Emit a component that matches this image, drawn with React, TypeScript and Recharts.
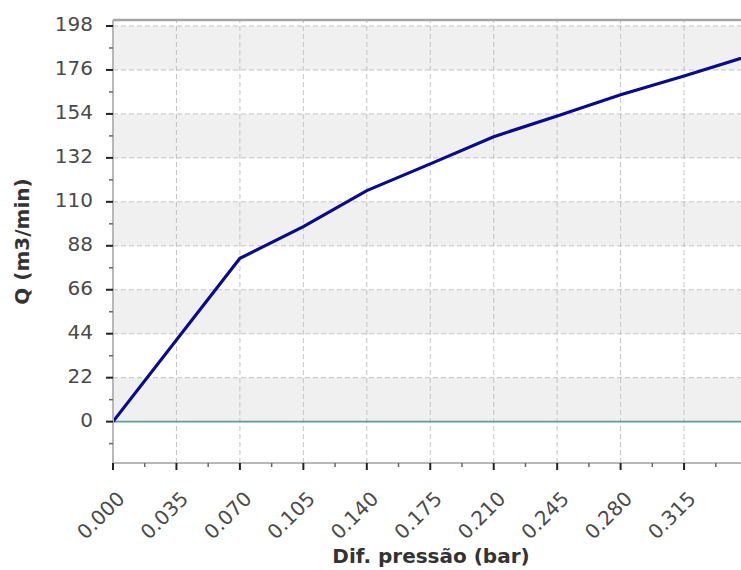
import {
  LineChart,
  Line,
  XAxis,
  YAxis,
  ReferenceLine,
  ReferenceArea,
} from 'recharts'

const pressure = [0, 0.07, 0.105, 0.14, 0.175, 0.21, 0.245, 0.28, 0.315, 0.3464]
const flow = [0, 81.7, 97.6, 115.6, 129.0, 142.6, 153.0, 163.6, 173.0, 181.8]

const majorX = [0, 0.035, 0.07, 0.105, 0.14, 0.175, 0.21, 0.245, 0.28, 0.315]
const minorX = [0.0175, 0.0525, 0.0875, 0.1225, 0.1575, 0.1925, 0.2275, 0.2625, 0.2975, 0.3325]
const majorY = [0, 22, 44, 66, 88, 110, 132, 154, 176, 198]
const minorY = [-11, 11, 33, 55, 77, 99, 121, 143, 165, 187]
// shaded bands, every other step
const bands: [number, number][] = [
  [0, 22],
  [44, 66],
  [88, 110],
  [132, 154],
  [176, 198],
]

const X_DOMAIN: [number, number] = [0, 0.3464]
const Y_DOMAIN: [number, number] = [-20.7, 201]

const chartData = pressure.map((p, i) => ({ x: p, q: flow[i] }))

const FONT = '"DejaVu Sans", Verdana, sans-serif'
const GRID = '#c4c4c4'

function XTick({ x, y, payload }: any) {
  const major = majorX.includes(payload.value)
  return (
    <g transform={`translate(${x},${y})`}>
      <line
        x1={0}
        y1={0}
        x2={0}
        y2={major ? 7 : 4}
        stroke={major ? '#222' : '#666'}
        strokeWidth={major ? 2 : 1.5}
      />
      {major && (
        <text
          transform="translate(13,37) rotate(-45)"
          textAnchor="end"
          fill="#4a4a4a"
          fontSize={20}
          fontFamily={FONT}
        >
          {payload.value.toFixed(3)}
        </text>
      )}
    </g>
  )
}

function YTick({ x, y, payload }: any) {
  const major = majorY.includes(payload.value)
  return (
    <g transform={`translate(${x},${y})`}>
      <line
        x1={0}
        y1={0}
        x2={major ? -7 : -4}
        y2={0}
        stroke={major ? '#222' : '#666'}
        strokeWidth={major ? 2 : 1.5}
      />
      {major && (
        <text x={-20} y={5} textAnchor="end" fill="#4a4a4a" fontSize={20} fontFamily={FONT}>
          {payload.value}
        </text>
      )}
    </g>
  )
}

export default function App() {
  // fixed so the page never gets a scrollbar
  return (
    <div style={{ position: 'fixed', left: 0, top: 0, width: 741, height: 570, background: '#fff' }}>
      <LineChart
        width={741}
        height={570}
        data={chartData}
        margin={{ top: 20, right: 0, bottom: 0, left: 0 }}
        style={{ fontFamily: FONT }}
      >
        {bands.map(([a, b]) => (
          <ReferenceArea key={a} y1={a} y2={b} fill="#f0f0f0" fillOpacity={1} stroke="none" />
        ))}
        {majorY
          .filter((v) => v !== 0)
          .map((v) => (
            <ReferenceLine key={'h' + v} y={v} stroke={GRID} strokeDasharray="5 3" />
          ))}
        {majorX
          .filter((v) => v !== 0)
          .map((v) => (
            <ReferenceLine key={'v' + v} x={v} stroke={GRID} strokeDasharray="5 3" />
          ))}
        <ReferenceLine y={Y_DOMAIN[1]} stroke="#a6a6a6" strokeWidth={2.5} />
        <ReferenceLine y={0} stroke="#5a9e98" strokeWidth={1.8} />
        <XAxis
          dataKey="x"
          type="number"
          domain={X_DOMAIN}
          ticks={[...majorX, ...minorX].sort((a, b) => a - b)}
          interval={0}
          height={107}
          tickSize={0}
          tickMargin={0}
          tickLine={false}
          tick={<XTick />}
          axisLine={{ stroke: '#b8b8b8', strokeWidth: 2 }}
          label={{
            content: ({ viewBox }: any) => (
              <text
                x={viewBox.x + viewBox.width / 2 + 4}
                y={viewBox.y + viewBox.height - 7}
                textAnchor="middle"
                fontSize={20}
                fontWeight="bold"
                fill="#333"
                fontFamily={FONT}
              >
                Dif. pressão (bar)
              </text>
            ),
          }}
        />
        <YAxis
          type="number"
          domain={Y_DOMAIN}
          ticks={[...majorY, ...minorY].sort((a, b) => a - b)}
          interval={0}
          width={113}
          tickSize={0}
          tickMargin={0}
          tickLine={false}
          tick={<YTick />}
          axisLine={{ stroke: '#b8b8b8', strokeWidth: 2 }}
          label={{
            content: ({ viewBox }: any) => {
              const cx = viewBox.x + 22
              const cy = viewBox.y + viewBox.height / 2
              return (
                <text
                  x={cx}
                  y={cy}
                  transform={`rotate(-90, ${cx}, ${cy})`}
                  textAnchor="middle"
                  dominantBaseline="central"
                  fontSize={20}
                  fontWeight="bold"
                  fill="#333"
                  fontFamily={FONT}
                >
                  Q (m3/min)
                </text>
              )
            },
          }}
        />
        <Line
          type="linear"
          dataKey="q"
          stroke="#0a0a8c"
          strokeWidth={3.2}
          dot={false}
          isAnimationActive={false}
        />
      </LineChart>
    </div>
  )
}
